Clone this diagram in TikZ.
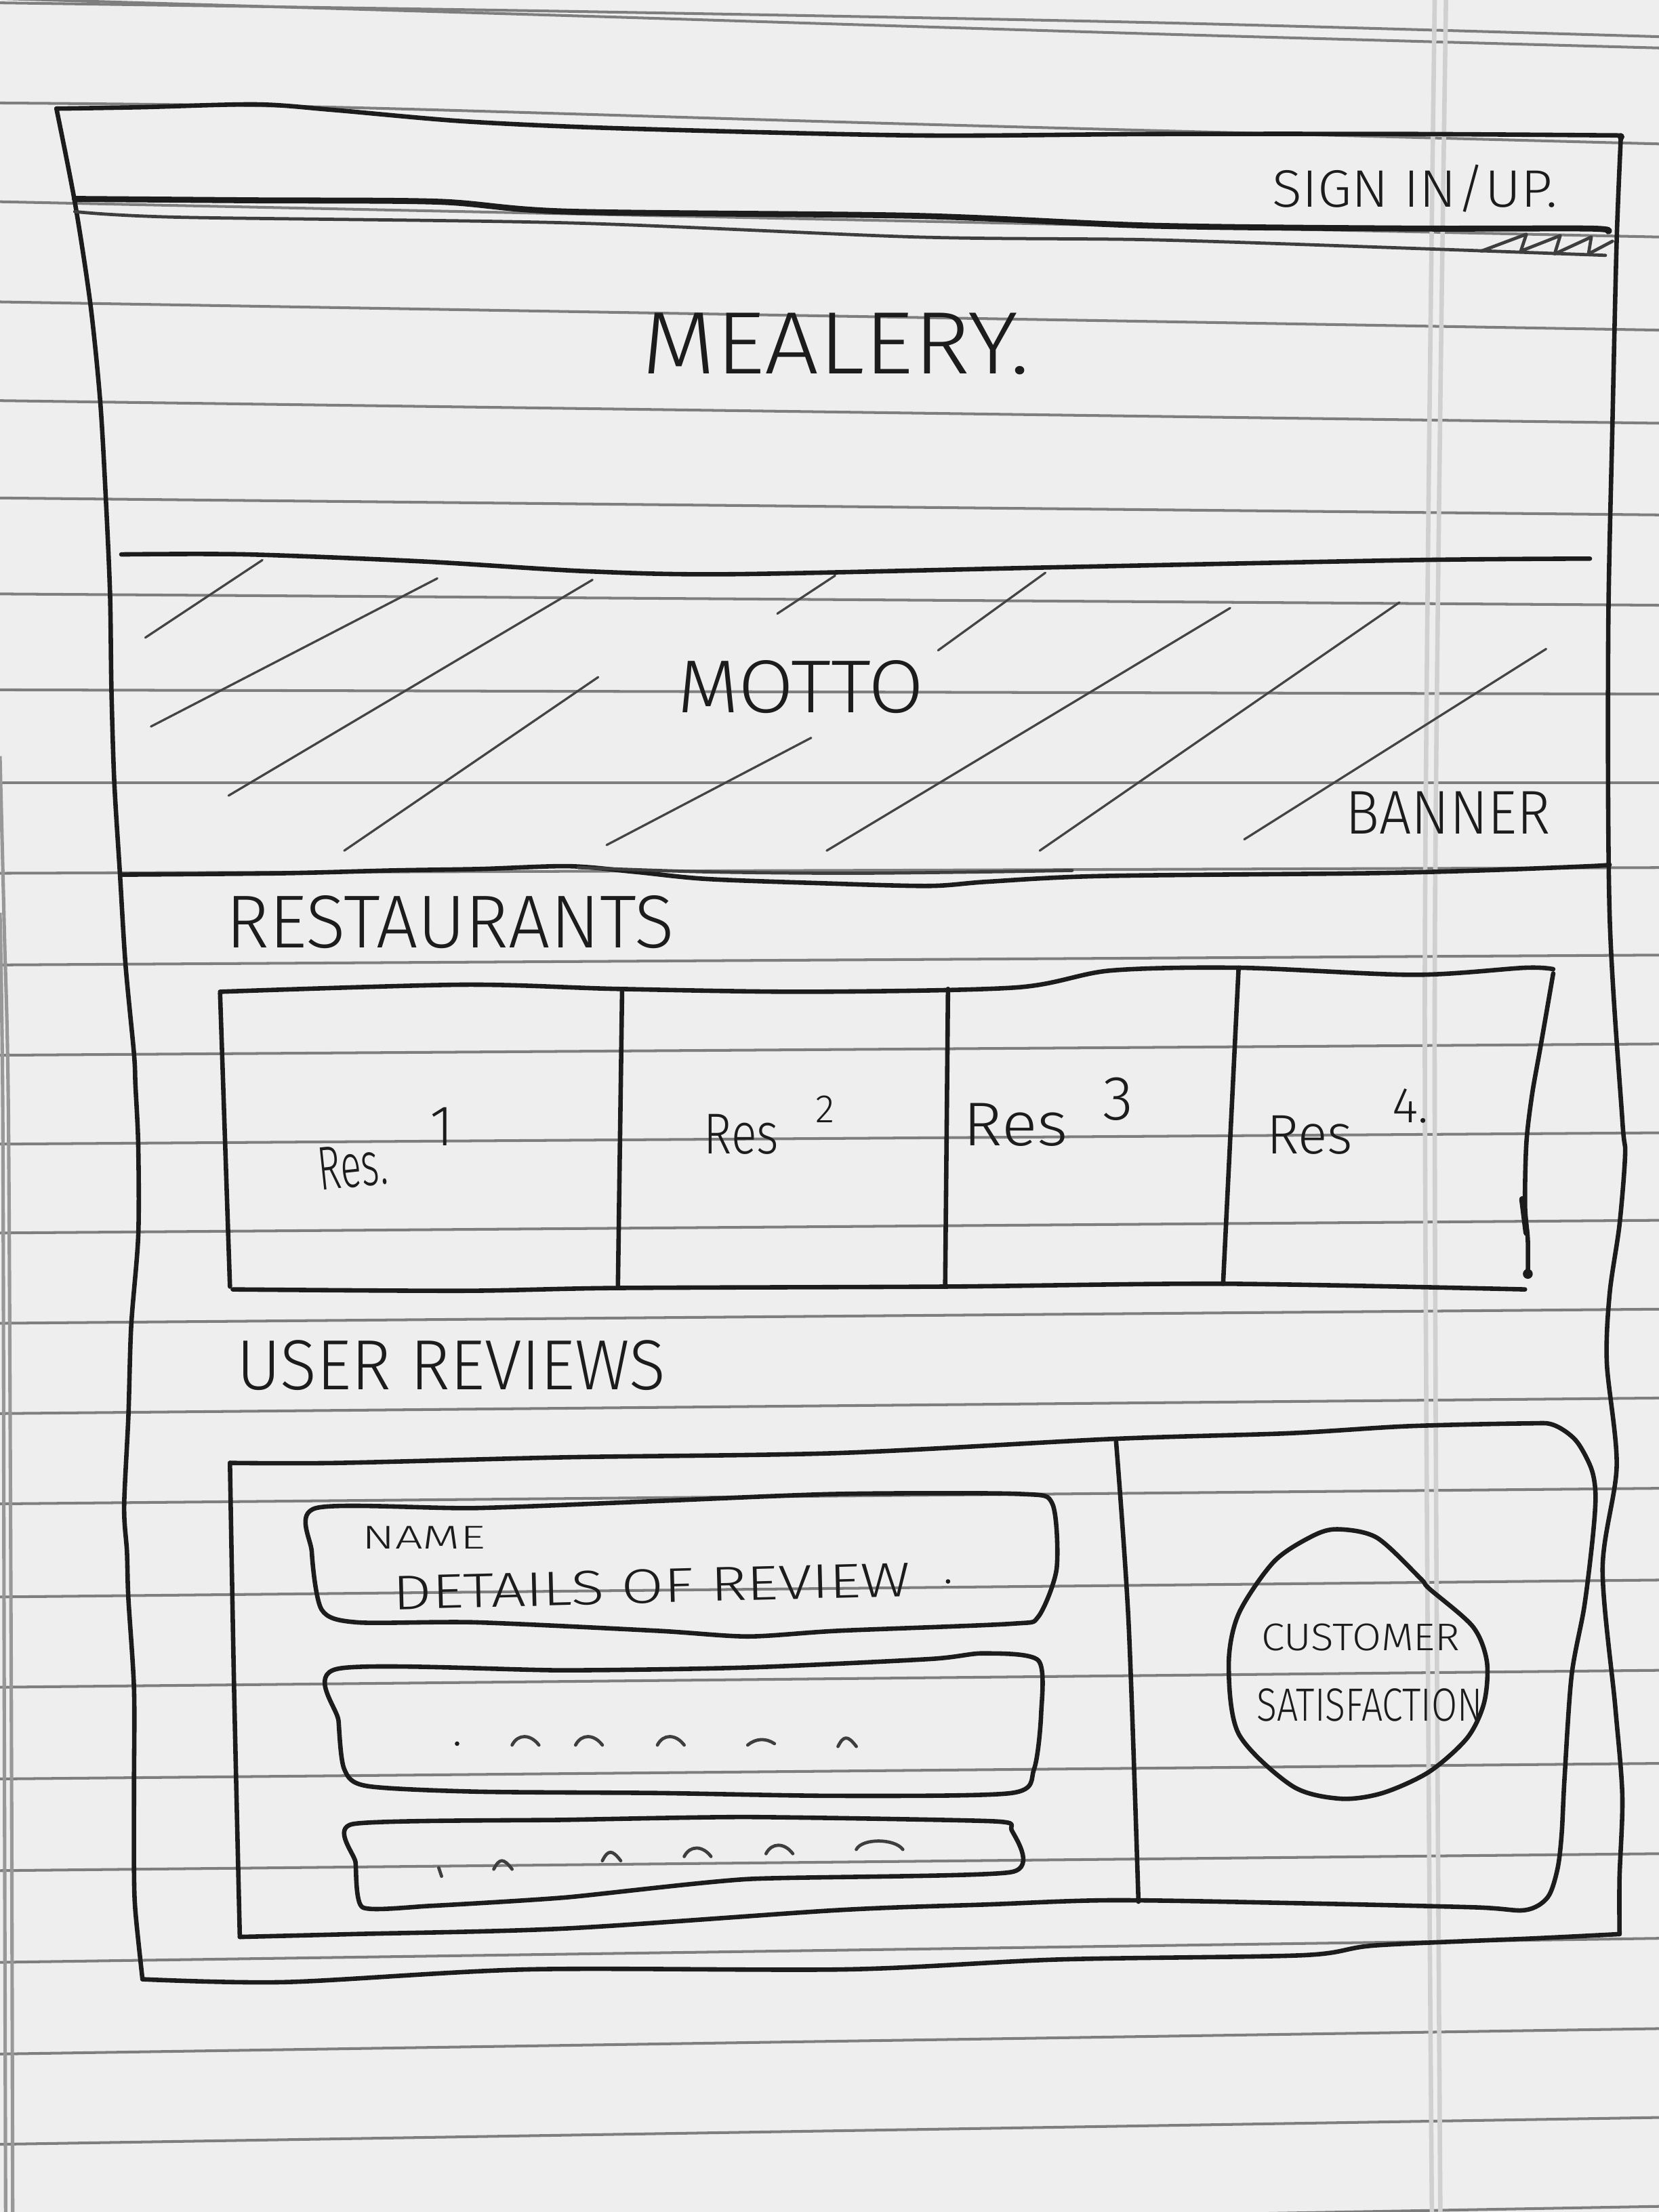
\documentclass[tikz,border=0pt]{standalone}
\usepackage{fontspec}
\setmainfont{Fira Sans}[UprightFont=* Light]
\usepackage{graphicx}
\newlength\pxu
\setlength\pxu{0.02cm}
% handwritten-style label boxed to a given width and cap height
\newcommand\hw[3]{\resizebox{#1\pxu}{#2\pxu}{#3}}
\newcommand\hh[2]{\resizebox{!}{#1\pxu}{#2}}
\definecolor{paper}{HTML}{EEEEEE}
\definecolor{rulec}{HTML}{7E7E7E}
\definecolor{marginc}{HTML}{D0D0D0}
\definecolor{penc}{HTML}{1C1C1C}
\definecolor{hatchc}{HTML}{444444}
\begin{document}
\begin{tikzpicture}[x=0.02cm,y=-0.02cm,
  pen/.style={draw=penc, line width=1.8pt, line cap=round, line join=round},
  heavypen/.style={draw=penc, line width=2.4pt, line cap=round, line join=round},
  softpen/.style={draw=penc!85, line width=1.3pt, line cap=round, line join=round},
  hatchline/.style={draw=hatchc, line width=0.9pt, line cap=round},
  rule/.style={draw=rulec, line width=1.1pt},
  marginline/.style={draw=marginc, line width=1.8pt},
  edgeline/.style={draw=rulec!80, line width=1.4pt},
  lbl/.style={inner sep=0pt, outer sep=0pt, text=penc, anchor=base west},
]
\useasboundingbox (0,0) rectangle (1176,1568);
\begin{scope}
\clip (0,0) rectangle (1176,1568);
\fill[paper] (0,0) rectangle (1176,1568);

% ruled notebook lines (the sheet is slightly skewed)
\draw[rule] plot[smooth] coordinates {(0,2) (400,8) (817,16) (1176,26)};
\draw[rule] plot[smooth] coordinates {(0,-1) (400,11) (817,24) (1176,34)};
\draw[rule] plot[smooth] coordinates {(0,73) (237,76) (649,88) (1176,102)};
\foreach \a/\b in {143/168, 214/234, 284/300, 353/365, 421/429,
  489/492, 555/555, 619/615, 684/677, 748/740, 811/803, 874/865, 938/928,
  1002/991, 1066/1055, 1132/1120, 1196/1184, 1261/1250, 1326/1314,
  1391/1374, 1456/1438, 1520/1501, 1585/1564}
  \draw[rule] (0,\a) -- (1176,\b);

% faint double margin line
\draw[marginline] plot[smooth] coordinates {(1017,0) (1010,700) (1015,1568)};
\draw[marginline] plot[smooth] coordinates {(1025,0) (1017,700) (1021,1568)};

% edge of the sheet underneath
\draw[edgeline] plot[smooth] coordinates {(0,536) (3,657) (6,793) (8,1200) (9,1568)};
\draw[edgeline] plot[smooth] coordinates {(0,647) (2,793) (3,1200) (4,1568)};
\end{scope}

% ---------- page frame ----------
\draw[pen] plot[smooth, tension=.5] coordinates {(40,77) (100,76) (182,74) (237,78) (329,86) (440,91) (649,96) (817,95) (1000,95) (1149,96)};
\draw[pen] plot[smooth, tension=.5] coordinates {(1149,96) (1146,170) (1143,300) (1140,450) (1141,649) (1150,794) (1152,818) (1148,868) (1141,917) (1139,966) (1146,1039) (1136,1112) (1145,1210) (1150,1273) (1148,1331) (1148,1371)};
\draw[pen] plot[smooth, tension=.5] coordinates {(1148,1371) (1088,1374) (975,1379) (923,1386) (750,1389) (600,1396) (375,1396) (203,1405) (101,1403)};
\draw[pen] plot[smooth, tension=.5] coordinates {(101,1403) (96,1355) (95,1326) (95,1262) (95,1197) (91,1133) (90,1100) (88,1068) (91,1004) (93,940) (98,876) (98,812) (96,769) (95,747) (89,684) (85,619) (81,554) (79,489) (78,421) (75,353) (71,284) (64,215) (53,143) (40,77)};
\fill[penc] (1149,97) circle[radius=2.5];

% ---------- header bar ----------
\draw[heavypen] plot[smooth, tension=.5] coordinates {(53,141) (180,142) (311,143) (403,150) (649,153) (817,160) (1000,162) (1126,162) (1140,164)};
\draw[softpen] plot[smooth, tension=.5] coordinates {(53,150) (127,154) (403,158) (649,168) (817,170) (1000,176) (1138,181)};
\draw[softpen] (1050,178) -- (1082,166) -- (1078,178) -- (1106,167) -- (1102,180) -- (1128,168) -- (1126,180) -- (1143,171);

\node[lbl] (signin) at (902,147) {\hw{202}{30}{SIGN IN/UP.}};
\node[lbl] (brand) at (455,265) {\hw{275}{43}{MEALERY.}};

% ---------- banner ----------
\draw[pen] plot[smooth, tension=.5] coordinates {(86,393) (175,393) (300,398) (417,405) (520,407) (754,402) (1003,397) (1127,396)};
\draw[pen] plot[smooth, tension=.5] coordinates {(86,620) (200,619) (279,617) (340,616) (403,614) (450,618) (500,623) (580,626) (658,628) (700,625) (780,621) (968,619) (1050,617) (1127,614) (1141,613)};
\draw[softpen] plot[smooth, tension=.5] coordinates {(410,615) (500,618) (600,619) (700,618) (760,617)};

% banner hatching
\draw[hatchline] (103,452) -- (186,397);
\draw[hatchline] (107,515) -- (310,410);
\draw[hatchline] (162,564) -- (420,411);
\draw[hatchline] (244,603) -- (424,480);
\draw[hatchline] (551,435) -- (592,408);
\draw[hatchline] (430,599) -- (575,523);
\draw[hatchline] (665,461) -- (741,406);
\draw[hatchline] (586,603) -- (872,431);
\draw[hatchline] (737,603) -- (992,427);
\draw[hatchline] (882,595) -- (1096,460);

\node[lbl] (motto) at (480,505) {\hw{175}{37}{MOTTO}};
\node[lbl] (bannerlbl) at (954,591) {\hw{145}{30}{BANNER}};

% ---------- restaurants ----------
\node[lbl] (restitle) at (160,672) {\hw{318}{37}{RESTAURANTS}};

\draw[pen] plot[smooth, tension=.5] coordinates {(156,703) (328,698) (438,701) (573,703) (720,700) (787,688) (879,686) (1002,691) (1081,686) (1101,687)};
\draw[pen] plot[smooth, tension=.5] coordinates {(1101,690) (1092,742) (1086,776) (1082,810) (1081,854) (1083,879) (1083,903)};
\draw[heavypen] (1079,850) -- (1082,874);
\fill[penc] (1083,903) circle[radius=3.5];
\draw[pen] plot[smooth, tension=.5] coordinates {(165,914) (328,915) (438,913) (671,912) (867,910) (1081,914)};
\draw[pen] (156,704) -- (163,912);
\draw[pen] (441,701) -- (438,913);
\draw[pen] (672,701) -- (670,911);
\draw[pen] (878,686) -- (867,910);

\node[lbl, rotate=6] (r1) at (227,844) {\hw{49}{30}{Res.}};
\node[lbl] (r1n) at (305,812) {\hh{27}{1}};
\node[lbl] (r2) at (499,818) {\hw{53}{28}{Res}};
\node[lbl] (r2n) at (578,796) {\hh{19}{2}};
\node[lbl] (r3) at (683,812) {\hw{74}{30}{Res}};
\node[lbl] (r3n) at (782,794) {\hh{30}{3}};
\node[lbl] (r4) at (898,818) {\hw{61}{27}{Res}};
\node[lbl] (r4n) at (987,796) {\hh{24}{4.}};

% ---------- user reviews ----------
\node[lbl] (revtitle) at (168,985) {\hw{304}{35}{USER REVIEWS}};

\draw[pen] plot[smooth, tension=.5] coordinates {(163,1037) (240,1037) (401,1033) (594,1030) (788,1020) (913,1016) (997,1011) (1081,1009) (1101,1010) (1117,1021) (1128,1041) (1131,1060) (1129,1090) (1123,1139) (1114,1188) (1109,1261) (1107,1300) (1104,1325) (1097,1345) (1081,1354) (1045,1352) (916,1349) (788,1347) (700,1350) (594,1354) (401,1367) (250,1371) (170,1373)};
\draw[pen] plot[smooth, tension=.5] coordinates {(170,1373) (166,1200) (163,1037)};
\draw[pen] plot[smooth, tension=.5] coordinates {(791,1020) (800,1150) (807,1348)};

% review cards
\draw[pen] plot[smooth cycle, tension=.45] coordinates {(224,1069) (337,1069) (466,1064) (594,1059) (723,1059) (746,1066) (749,1112) (736,1146) (717,1151) (594,1156) (530,1160) (466,1156) (337,1150) (253,1150) (228,1141) (221,1100)};
\draw[pen] plot[smooth cycle, tension=.45] coordinates {(239,1183) (401,1184) (530,1182) (659,1176) (697,1172) (736,1177) (738,1215) (733,1254) (717,1271) (594,1273) (466,1271) (337,1270) (260,1266) (244,1254) (240,1220)};
\draw[pen] plot[smooth cycle, tension=.35] coordinates {(250,1293) (401,1290) (530,1288) (704,1291) (717,1297) (717,1327) (530,1332) (401,1345) (305,1351) (257,1352) (252,1320)};

\node[lbl] (name) at (257,1098) {\hw{87}{16}{NAME}};
\node[lbl, rotate=1.5] (details) at (279,1141) {\hw{367}{24}{DETAILS OF REVIEW}};
\fill[penc] (672,1121) circle[radius=1.6];

% placeholder strokes inside the second and third cards
\fill[penc] (324,1236) circle[radius=1.6];
\foreach \xa/\xb/\yy in {363/382/1237, 408/427/1237, 466/485/1237, 594/607/1238}
  \draw[softpen] (\xa,\yy) .. controls (\xa+4,\yy-8) and (\xb-6,\yy-8) .. (\xb,\yy);
\draw[softpen] (530,1237) .. controls (536,1232) and (543,1232) .. (549,1236);
\draw[softpen] (311,1324) -- (313,1330);
\foreach \xa/\xb/\yy in {350/363/1325, 427/440/1319, 485/504/1316, 543/562/1314, 607/640/1311}
  \draw[softpen] (\xa,\yy) .. controls (\xa+4,\yy-8) and (\xb-6,\yy-8) .. (\xb,\yy);

% customer satisfaction badge
\draw[pen] plot[smooth cycle, tension=.5] coordinates {(948,1084) (976,1090) (1007,1119) (1013,1126) (1044,1153) (1054,1178) (1052,1207) (1040,1232) (1013,1256) (980,1271) (950,1275) (916,1266) (878,1229) (871,1180) (878,1144) (903,1107) (930,1089)};
\node[lbl] (cust) at (894,1170) {\hw{141}{19}{CUSTOMER}};
\node[lbl] (satis) at (891,1220) {\hw{160}{23}{SATISFACTION}};
\end{tikzpicture}
\end{document}
